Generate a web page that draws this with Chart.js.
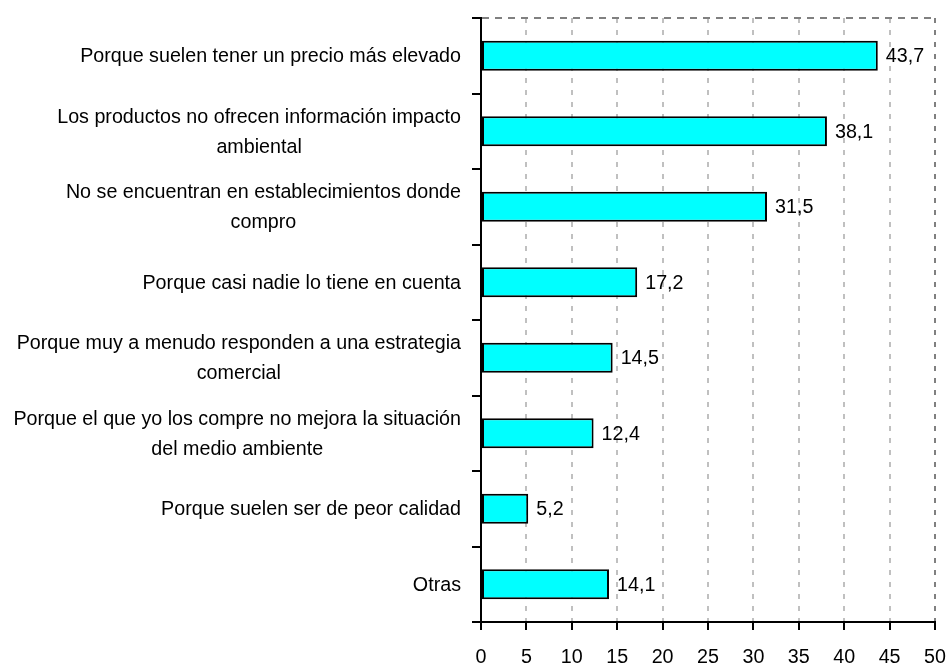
<!DOCTYPE html>
<html>
<head>
<meta charset="utf-8">
<script src="https://cdn.jsdelivr.net/npm/chart.js@4.4.0/dist/chart.umd.min.js"></script>
<style>
  body { margin: 0; background: #fff; }
  #wrap { width: 948px; height: 666px; }
</style>
</head>
<body>
<div id="wrap"><canvas id="myChart"></canvas></div>
<script>
const categories = [
  "Porque suelen tener un precio más elevado",
  ["Los productos no ofrecen información impacto", "ambiental"],
  ["No se encuentran en establecimientos donde", "compro"],
  "Porque casi nadie lo tiene en cuenta",
  ["Porque muy a menudo responden a una estrategia", "comercial"],
  ["Porque el que yo los compre no mejora la situación", "del medio ambiente"],
  "Porque suelen ser de peor calidad",
  "Otras",
];
const values = [43.7, 38.1, 31.5, 17.2, 14.5, 12.4, 5.2, 14.1];
const xMin = 0;
const xMax = 50;
const xStep = 5;

const FONT = "'Liberation Sans', Arial, sans-serif";
const FONT_SIZE = 19.7;
const LINE_H = 30;

// category labels (right-aligned block, lines centred) + value labels
const labelPlugin = {
  id: "labelPlugin",
  afterDraw(chart) {
    const ctx = chart.ctx;
    const yScale = chart.scales.y;
    ctx.save();
    ctx.font = FONT_SIZE + "px " + FONT;
    ctx.fillStyle = "#000";
    ctx.textBaseline = "middle";
    ctx.textAlign = "center";
    categories.forEach((lab, i) => {
      const lines = Array.isArray(lab) ? lab : [lab];
      const widest = Math.max(...lines.map(l => ctx.measureText(l).width));
      const cx = yScale.right - 20 - widest / 2;
      const cy = yScale.getPixelForValue(i);
      lines.forEach((l, j) => {
        ctx.fillText(l, cx, cy + 1 + (j - (lines.length - 1) / 2) * LINE_H);
      });
    });
    ctx.textAlign = "left";
    chart.getDatasetMeta(0).data.forEach((bar, i) => {
      ctx.fillText(values[i].toFixed(1).replace(".", ","), bar.x + 8, bar.y + 1);
    });
    ctx.restore();
  },
};

new Chart("myChart", {
  type: "bar",
  data: {
    labels: categories,
    datasets: [
      {
        data: values,
        backgroundColor: "#00ffff",
        borderColor: "#000",
        borderWidth: 2,
        borderSkipped: false,
        barPercentage: 0.4,
        categoryPercentage: 1,
      },
    ],
  },
  options: {
    indexAxis: "y",
    responsive: true,
    maintainAspectRatio: false,
    animation: false,
    layout: { padding: { top: 18, right: 13, left: 0, bottom: 0 } },
    plugins: {
      legend: { display: false },
      tooltip: { enabled: false },
    },
    scales: {
      x: {
        min: xMin,
        max: xMax,
        ticks: {
          stepSize: xStep,
          color: "#000",
          padding: 16,
          font: { family: FONT, size: FONT_SIZE },
        },
        grid: {
          color: (c) => {
            if (c.tick && c.tick.value === xMax) return "#808080";
            if (c.tick && c.tick.value === xMin) return "transparent";
            return "#c0c0c0";
          },
          lineWidth: 2,
          tickColor: "#000",
          tickWidth: 2,
          tickLength: 8,
        },
        border: { color: "#000", width: 2, dash: [5, 7] },
        afterFit: (s) => {
          s.height = 44;
          s.paddingLeft = 0;
          s.paddingRight = 0;
        },
      },
      y: {
        ticks: { color: "transparent", font: { family: FONT, size: FONT_SIZE } },
        grid: {
          offset: true,
          color: (c) => (c.index === 0 ? "#808080" : "transparent"),
          lineWidth: 2,
          tickColor: "#000",
          tickWidth: 2,
          tickLength: 9,
        },
        border: { color: "#000", width: 2, dash: [7, 6] },
        afterFit: (s) => {
          s.width = 481;
          s.paddingTop = 0;
          s.paddingBottom = 0;
        },
      },
    },
  },
  plugins: [labelPlugin],
});
</script>
</body>
</html>
